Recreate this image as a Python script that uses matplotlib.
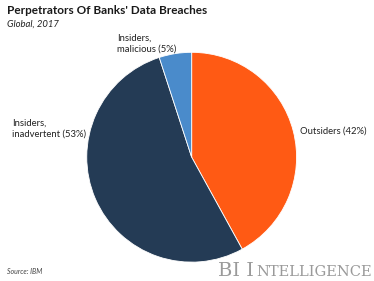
import matplotlib
matplotlib.use("Agg")
import matplotlib.pyplot as plt

labels = ["Outsiders", "Insiders,\ninadvertent", "Insiders,\nmalicious"]
shares = [42, 53, 5]
colors = ["#FF5A14", "#243B55", "#4A8BCB"]

plt.rcParams["font.family"] = ["Lato", "DejaVu Sans"]

fig = plt.figure(figsize=(3.74, 2.81), dpi=100)
fig.patch.set_facecolor("white")

ax = fig.add_axes([0.232, 0.067, 0.561, 0.747])
ax.pie(shares, colors=colors, startangle=90, counterclock=False,
       wedgeprops=dict(edgecolor="white", linewidth=0.6))
ax.set_xlim(-1, 1)
ax.set_ylim(-1, 1)
ax.set_aspect("equal")

# label positions (figure fraction)
pos = [(300 / 374, 1 - 131 / 281, "left"),
       (12 / 374, 1 - 129 / 281, "left"),
       (117 / 374, 1 - 44 / 281, "left")]
for lab, s, (x, y, ha) in zip(labels, shares, pos):
    fig.text(x, y, f"{lab} ({s}%)", ha=ha, va="center", fontsize=6.8,
             color="#222222", linespacing=1.3)

fig.text(0.02, 1 - 10 / 281, "Perpetrators Of Banks' Data Breaches",
         fontsize=8.5, fontweight="bold", va="center", color="#1a1a1a")
fig.text(0.02, 1 - 24 / 281, "Global, 2017", fontsize=6.8, style="italic",
         va="center", color="#222222")
fig.text(0.02, 1 - 272 / 281, "Source: IBM", fontsize=5, style="italic",
         va="center", color="#444444")

fig.text(218 / 374, 1 - 271 / 281, "BI I", fontsize=14, family="DejaVu Serif",
         color="#9a9a9a", va="center")
fig.text(256 / 374, 1 - 272 / 281, "NTELLIGENCE", fontsize=10.5, family="DejaVu Serif",
         color="#9a9a9a", va="center")

fig.savefig("out.png", dpi=100)
